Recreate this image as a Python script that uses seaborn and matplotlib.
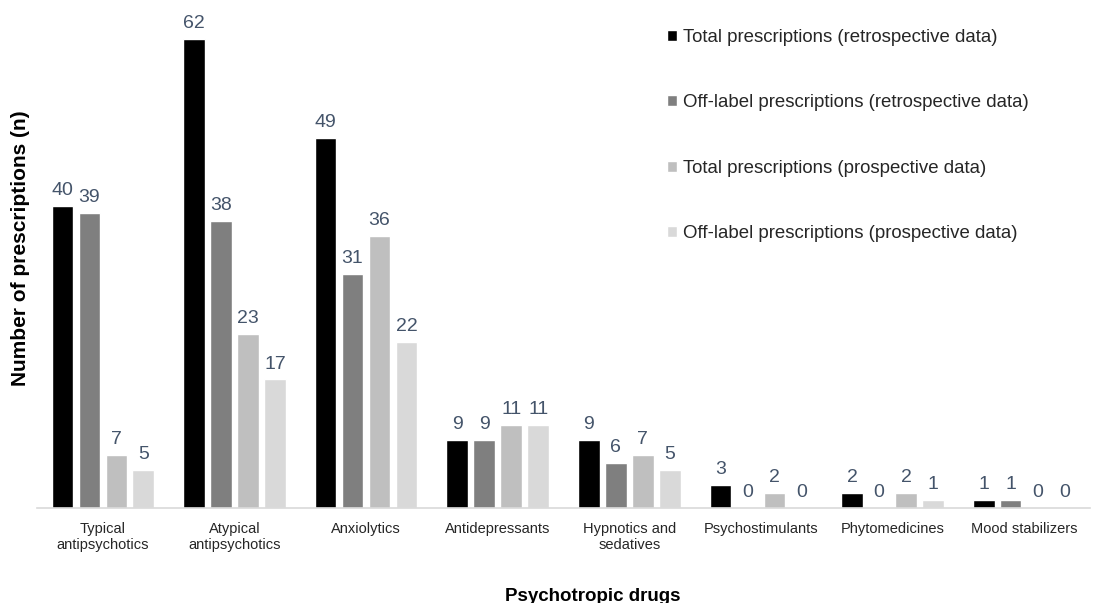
import matplotlib
matplotlib.use("Agg")
import matplotlib.pyplot as plt
import seaborn as sns
import pandas as pd

categories = [
    "Typical\nantipsychotics",
    "Atypical\nantipsychotics",
    "Anxiolytics",
    "Antidepressants",
    "Hypnotics and\nsedatives",
    "Psychostimulants",
    "Phytomedicines",
    "Mood stabilizers",
]
series_names = [
    "Total prescriptions (retrospective data)",
    "Off-label prescriptions (retrospective data)",
    "Total prescriptions (prospective data)",
    "Off-label prescriptions (prospective data)",
]
total_retro = [40, 62, 49, 9, 9, 3, 2, 1]
offlabel_retro = [39, 38, 31, 9, 6, 0, 0, 1]
total_prosp = [7, 23, 36, 11, 7, 2, 2, 0]
offlabel_prosp = [5, 17, 22, 11, 5, 0, 1, 0]

colors = ["#000000", "#7F7F7F", "#BFBFBF", "#D9D9D9"]

rows = []
for name, vals in zip(series_names, [total_retro, offlabel_retro, total_prosp, offlabel_prosp]):
    for cat, v in zip(categories, vals):
        rows.append({"drug": cat, "series": name, "n": v})
df = pd.DataFrame(rows)

sns.set_style("white")
plt.rcParams["font.family"] = ["Liberation Sans", "DejaVu Sans"]

fig = plt.figure(figsize=(10.97, 6.03), dpi=100)
ax = fig.add_axes([37 / 1097, 1 - 508 / 603, 1053 / 1097, 499 / 603])

sns.barplot(
    data=df, x="drug", y="n", hue="series", order=categories,
    hue_order=series_names, palette=colors, width=0.82, gap=0.2,
    saturation=1, ax=ax, legend=True,
)

for cont in ax.containers:
    ax.bar_label(cont, fmt="%d", padding=5, color="#44546A", fontsize=14)

ax.set_ylim(0, 66)
ax.set_xlim(-0.5, len(categories) - 0.5)
ax.set_yticks([])
for s in ["top", "right", "left"]:
    ax.spines[s].set_visible(False)
ax.spines["bottom"].set_color("#D9D9D9")
ax.spines["bottom"].set_linewidth(1.2)
ax.tick_params(axis="x", length=0, pad=10, labelsize=10.5, colors="#262626")

ax.set_xlabel("")
ax.set_ylabel("")
fig.text(593 / 1097, 1 - 601 / 603, "Psychotropic drugs", ha="center", va="baseline",
         fontsize=13.5, fontweight="bold", color="#000000")
fig.text(21 / 1097, 1 - 248 / 603, "Number of prescriptions (n)", ha="center", va="center",
         rotation=90, fontsize=15, fontweight="bold", color="#000000")

handles, labels = ax.get_legend_handles_labels()
ax.legend(
    handles, labels, loc="upper left", bbox_to_anchor=(667 / 1097, 1 - 29 / 603),
    bbox_transform=fig.transFigure, frameon=False, fontsize=13.4,
    handlelength=0.55, handleheight=0.55, handletextpad=0.3, labelspacing=2.6,
    labelcolor="#262626", borderaxespad=0, borderpad=0,
)

fig.savefig("out.png", dpi=100)
